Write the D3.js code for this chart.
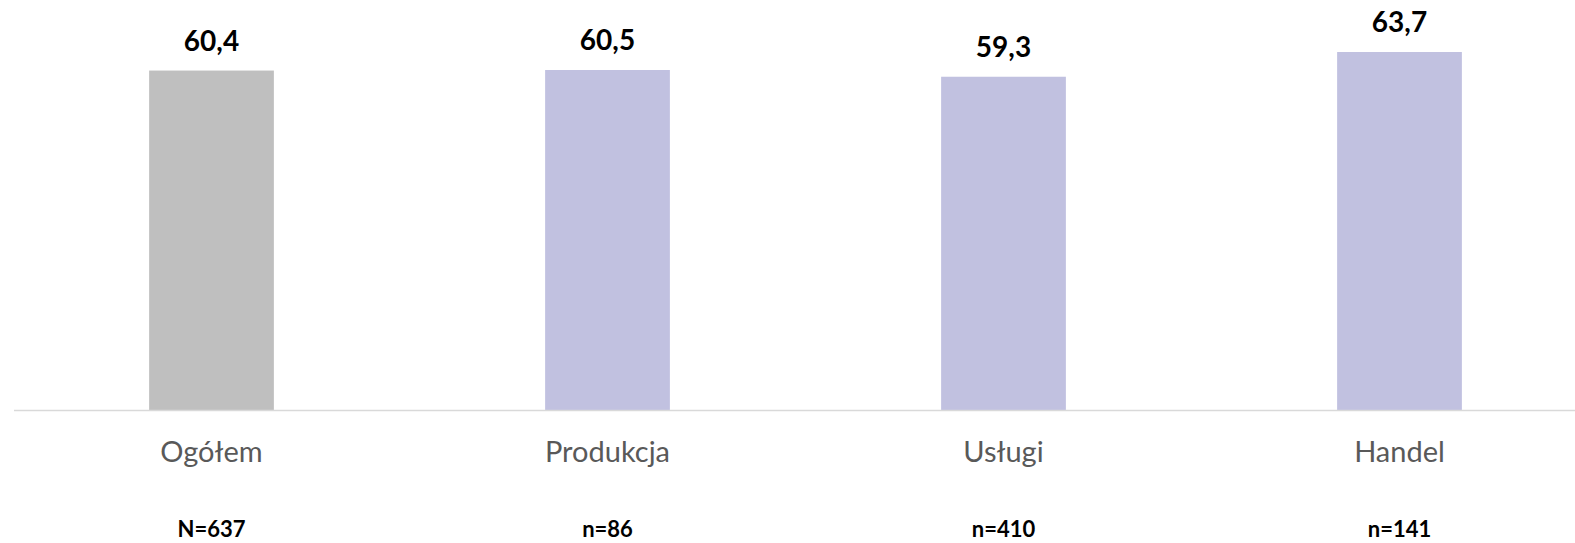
<!DOCTYPE html>
<html>
<head>
<meta charset="utf-8">
<script src="https://cdn.jsdelivr.net/npm/d3@7"></script>
<style>
  html, body { margin: 0; padding: 0; background: #fff; }
  svg { display: block; }
</style>
</head>
<body>
<svg width="1575" height="543"></svg>
<script>
const categories = ["Ogółem", "Produkcja", "Usługi", "Handel"];
const values = [60.4, 60.5, 59.3, 63.7];
const sampleLabels = ["N=637", "n=86", "n=410", "n=141"];
const barColors = ["#bfbfbf", "#c1c1e0", "#c1c1e0", "#c1c1e0"];

const svg = d3.select("svg");
const width = +svg.attr("width");
const height = +svg.attr("height");
const fontFamily = "Lato, 'Open Sans', sans-serif";

const baseY = 410;

const xScale = d3
  .scaleBand()
  .domain(categories)
  .range([13.5, 1597.5])
  .paddingInner(0.685)
  .paddingOuter(0.3425);

const yScale = d3.scaleLinear().domain([0, 70]).range([baseY, baseY - 70 * 5.62]);

// bars
svg
  .selectAll(".bar")
  .data(values)
  .enter()
  .append("rect")
  .attr("class", "bar")
  .attr("x", (d, i) => xScale(categories[i]))
  .attr("y", (d) => yScale(d))
  .attr("width", xScale.bandwidth())
  .attr("height", (d) => yScale(0) - yScale(d))
  .attr("fill", (d, i) => barColors[i]);

// baseline
svg
  .append("line")
  .attr("x1", 14)
  .attr("x2", width)
  .attr("y1", baseY + 0.5)
  .attr("y2", baseY + 0.5)
  .attr("stroke", "#d9d9d9")
  .attr("stroke-width", 1.5);

// value labels
svg
  .selectAll(".value")
  .data(values)
  .enter()
  .append("text")
  .attr("class", "value")
  .attr("x", (d, i) => xScale(categories[i]) + xScale.bandwidth() / 2)
  .attr("y", (d) => yScale(d) - 20)
  .attr("text-anchor", "middle")
  .attr("font-family", fontFamily)
  .attr("font-weight", "bold")
  .attr("font-size", 28)
  .attr("fill", "#000")
  .text((d) => String(d).replace(".", ","));

// category labels
svg
  .selectAll(".cat")
  .data(categories)
  .enter()
  .append("text")
  .attr("class", "cat")
  .attr("x", (d) => xScale(d) + xScale.bandwidth() / 2)
  .attr("y", 462)
  .attr("text-anchor", "middle")
  .attr("font-family", fontFamily)
  .attr("font-size", 29)
  .attr("fill", "#595959")
  .text((d) => d);

// sample size labels
svg
  .selectAll(".n")
  .data(sampleLabels)
  .enter()
  .append("text")
  .attr("class", "n")
  .attr("x", (d, i) => xScale(categories[i]) + xScale.bandwidth() / 2)
  .attr("y", 537)
  .attr("text-anchor", "middle")
  .attr("font-family", fontFamily)
  .attr("font-weight", "bold")
  .attr("font-size", 22)
  .attr("fill", "#000")
  .text((d) => d);
</script>
</body>
</html>
